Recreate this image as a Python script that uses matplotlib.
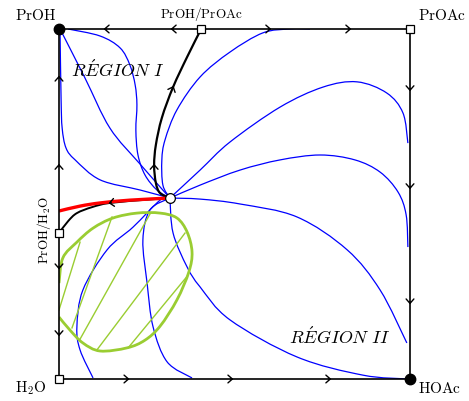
import numpy as np
import matplotlib
matplotlib.use('Agg')
import matplotlib.pyplot as plt
from matplotlib.path import Path
from matplotlib.patches import PathPatch

plt.rcParams['mathtext.fontset'] = 'cm'

# Square diagram, x and y run from 0 to 1.
# Singular points.
node_x, node_y = 0.316, 0.517
az_top = (0.405, 1.0)    # PrOH/PrOAc
az_left = (0.0, 0.417)   # PrOH/H2O

# Residue curves (blue), all leaving the ternary node.
c1_x = [0.003, 0.074, 0.145, 0.231, 0.316]
c1_y = [1.0, 0.860, 0.717, 0.614, 0.517]
c2_x = [0.026, 0.117, 0.174, 0.202, 0.217, 0.222, 0.219, 0.225, 0.245, 0.279, 0.316]
c2_y = [1.0, 0.980, 0.946, 0.897, 0.840, 0.783, 0.711, 0.640, 0.583, 0.540, 0.517]
c3_x = [0.003, 0.006, 0.009, 0.020, 0.046, 0.117, 0.231, 0.316]
c3_y = [0.989, 0.797, 0.717, 0.660, 0.626, 0.569, 0.540, 0.517]
c4_x = [0.316, 0.296, 0.293, 0.302, 0.336, 0.402, 0.487, 0.581, 0.658, 0.715]
c4_y = [0.517, 0.554, 0.626, 0.683, 0.769, 0.863, 0.934, 0.989, 1.0, 1.0]
c5_x = [0.316, 0.402, 0.487, 0.630, 0.752, 0.849, 0.934, 0.980, 0.994]
c5_y = [0.517, 0.597, 0.677, 0.777, 0.834, 0.849, 0.817, 0.760, 0.674]
c6_x = [0.316, 0.402, 0.516, 0.630, 0.744, 0.843, 0.915, 0.966, 0.989, 0.994]
c6_y = [0.517, 0.554, 0.597, 0.626, 0.640, 0.626, 0.591, 0.534, 0.469, 0.377]
c7_x = [0.316, 0.402, 0.516, 0.678, 0.821, 0.915, 0.991]
c7_y = [0.517, 0.514, 0.500, 0.463, 0.369, 0.254, 0.103]
c8_x = [0.316, 0.325, 0.365, 0.402, 0.487, 0.678, 0.866, 0.994]
c8_y = [0.517, 0.417, 0.320, 0.263, 0.169, 0.063, 0.011, 0.0]
c9_x = [0.316, 0.259, 0.239, 0.251, 0.268, 0.308, 0.379]
c9_y = [0.517, 0.483, 0.397, 0.274, 0.149, 0.049, 0.003]
c10_x = [0.316, 0.288, 0.211, 0.137, 0.068, 0.051, 0.060, 0.097]
c10_y = [0.517, 0.511, 0.434, 0.369, 0.254, 0.149, 0.083, 0.003]

# Separatrices (black), written from the node outwards.
sep_top_x = [0.316, 0.288, 0.276, 0.271, 0.276, 0.293, 0.325, 0.365, 0.405]
sep_top_y = [0.517, 0.531, 0.560, 0.611, 0.669, 0.746, 0.834, 0.920, 1.0]
sep_left_x = [0.316, 0.259, 0.145, 0.094, 0.051, 0.026, 0.0]
sep_left_y = [0.517, 0.513, 0.503, 0.491, 0.474, 0.451, 0.417]

# Red curve.
red_x = [0.0, 0.060, 0.117, 0.202, 0.316]
red_y = [0.480, 0.494, 0.503, 0.511, 0.517]

# Liquid-liquid envelope and tie lines (green).
lle_x = [0.0, 0.011, 0.051, 0.097, 0.154, 0.222, 0.288, 0.336, 0.365, 0.379,
         0.370, 0.336, 0.288, 0.245, 0.194, 0.117, 0.068, 0.031, 0.0]
lle_y = [0.274, 0.346, 0.391, 0.431, 0.460, 0.474, 0.474, 0.460, 0.420, 0.363,
         0.306, 0.226, 0.151, 0.111, 0.089, 0.080, 0.103, 0.140, 0.177]
tie_x1 = [0.060, 0.151, 0.259, 0.359, 0.368]
tie_y1 = [0.391, 0.463, 0.471, 0.417, 0.297]
tie_x2 = [0.0, 0.037, 0.060, 0.108, 0.197]
tie_y2 = [0.197, 0.146, 0.114, 0.083, 0.089]

# Arrowheads on the edges: x, y, dx, dy.
edge_arrows = [
    (0.131, 1.0, -1, 0), (0.322, 1.0, -1, 0), (0.601, 1.0, 1, 0), (0.829, 1.0, 1, 0),
    (1.0, 0.826, 0, -1), (1.0, 0.546, 0, -1), (1.0, 0.217, 0, -1),
    (0.197, 0.0, 1, 0), (0.493, 0.0, 1, 0), (0.772, 0.0, 1, 0),
    (0.0, 0.863, 0, 1), (0.0, 0.611, 0, 1), (0.0, 0.317, 0, -1), (0.0, 0.126, 0, -1),
]

ARROW = dict(arrowstyle='->,head_length=0.32,head_width=0.28', color='black',
             lw=1.0, shrinkA=0, shrinkB=0, mutation_scale=10)


def smooth_path(xs, ys):
    # Bezier path through the read points (Catmull-Rom style handles)
    p = np.column_stack([xs, ys]).astype(float)
    n = len(p)
    verts = [p[0]]
    codes = [Path.MOVETO]
    for i in range(n - 1):
        p0 = p[i - 1] if i > 0 else p[i]
        p3 = p[i + 2] if i + 2 < n else p[i + 1]
        verts += [p[i] + (p[i + 1] - p0) / 6, p[i + 1] - (p3 - p[i]) / 6, p[i + 1]]
        codes += [Path.CURVE4] * 3
    return Path(verts, codes)


def curve(ax, xs, ys, color, lw, z):
    ax.add_patch(PathPatch(smooth_path(xs, ys), fill=False, ec=color, lw=lw,
                           zorder=z, joinstyle='round', capstyle='butt'))


def head(ax, x, y, dx, dy):
    eps = 0.004
    ax.annotate('', xy=(x + dx * eps, y + dy * eps), xytext=(x - dx * eps, y - dy * eps),
                arrowprops=ARROW, zorder=6, annotation_clip=False)


def head_on_curve(ax, xs, ys, near):
    # arrowhead at the vertex closest to 'near', pointing along the curve order
    pts = np.column_stack([xs, ys])
    i = int(np.argmin(np.hypot(pts[:, 0] - near[0], pts[:, 1] - near[1])))
    i = min(max(i, 1), len(pts) - 2)
    d = pts[i + 1] - pts[i - 1]
    d = d / np.hypot(*d)
    head(ax, pts[i][0], pts[i][1], d[0], d[1])


fig = plt.figure(figsize=(4.69, 4.01), dpi=100)
ax = fig.add_axes([59 / 469, 22 / 401, 351 / 469, 350 / 401])
ax.set_xlim(0, 1)
ax.set_ylim(0, 1)
ax.set_xticks([])
ax.set_yticks([])
for s in ax.spines.values():
    s.set_linewidth(1.2)
    s.set_zorder(5)

blue = [(c1_x, c1_y), (c2_x, c2_y), (c3_x, c3_y), (c4_x, c4_y), (c5_x, c5_y),
        (c6_x, c6_y), (c7_x, c7_y), (c8_x, c8_y), (c9_x, c9_y), (c10_x, c10_y)]
for xs, ys in blue:
    curve(ax, xs, ys, '#0000ff', 0.9, 2)

green = '#9acd32'
curve(ax, lle_x, lle_y, green, 2.0, 3)
for xa, ya, xb, yb in zip(tie_x1, tie_y1, tie_x2, tie_y2):
    ax.plot([xa, xb], [ya, yb], color=green, lw=1.0, zorder=3)

curve(ax, sep_top_x, sep_top_y, 'black', 1.6, 4)
curve(ax, sep_left_x, sep_left_y, 'black', 1.4, 4)
curve(ax, red_x, red_y, 'red', 2.4, 4.5)

head_on_curve(ax, sep_top_x, sep_top_y, (0.325, 0.834))
head_on_curve(ax, sep_top_x, sep_top_y, (0.271, 0.611))
head_on_curve(ax, sep_left_x, sep_left_y, (0.145, 0.503))
for x, y, dx, dy in edge_arrows:
    head(ax, x, y, dx, dy)

# Nodes
ax.plot([0, 1], [1, 0], 'o', color='black', ms=7.5, zorder=8, clip_on=False)
ax.plot([1, 0, az_top[0], az_left[0]], [1, 0, az_top[1], az_left[1]], 's',
        mfc='white', mec='black', mew=0.9, ms=5.5, zorder=8, clip_on=False)
ax.plot([node_x], [node_y], 'o', mfc='white', mec='black', mew=0.9, ms=7,
        zorder=8, clip_on=False)

# Labels
ax.text(-0.068, 1.04, r'$\mathrm{PrOH}$', fontsize=11, ha='center', va='center')
ax.text(1.09, 1.04, r'$\mathrm{PrOAc}$', fontsize=11, ha='center', va='center')
ax.text(az_top[0], 1.043, r'$\mathrm{PrOH/PrOAc}$', fontsize=9.5, ha='center', va='center')
ax.text(1.085, -0.026, r'$\mathrm{HOAc}$', fontsize=11, ha='center', va='center')
ax.text(-0.08, -0.026, r'$\mathrm{H_2O}$', fontsize=11, ha='center', va='center')
ax.text(-0.042, 0.426, r'$\mathrm{PrOH/H_2O}$', fontsize=9.5, ha='center', va='center',
        rotation=90)
ax.text(0.168, 0.883, r'$\mathit{R\acute{E}GION\ I}$', fontsize=13, ha='center', va='center')
ax.text(0.80, 0.12, r'$\mathit{R\acute{E}GION\ II}$', fontsize=13, ha='center', va='center')

fig.savefig('out.png', dpi=100)
